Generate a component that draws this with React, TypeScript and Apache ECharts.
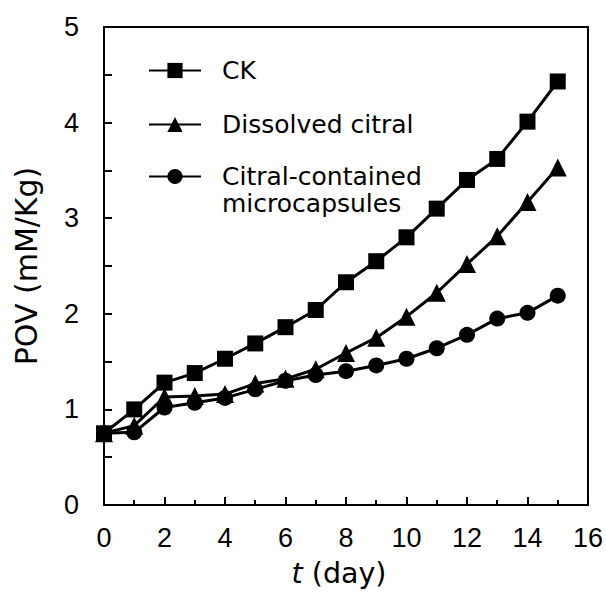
import React, { useEffect, useRef } from 'react';
import * as echarts from 'echarts';

const days = [0, 1, 2, 3, 4, 5, 6, 7, 8, 9, 10, 11, 12, 13, 14, 15];
const ckValues = [0.75, 1.0, 1.28, 1.38, 1.53, 1.69, 1.86, 2.04, 2.33, 2.55, 2.8, 3.1, 3.4, 3.62, 4.01, 4.43];
const dissolvedValues = [0.75, 0.83, 1.13, 1.14, 1.16, 1.27, 1.32, 1.42, 1.59, 1.75, 1.97, 2.22, 2.52, 2.81, 3.17, 3.53];
const microValues = [0.75, 0.76, 1.02, 1.07, 1.12, 1.21, 1.3, 1.36, 1.4, 1.46, 1.53, 1.64, 1.78, 1.95, 2.01, 2.19];
const seriesNames = ['CK', 'Dissolved citral', 'Citral-contained microcapsules'];
const seriesSymbols = ['rect', 'triangle', 'circle'];
const seriesSymbolSizes = [16, 18, 16];

const digitFont = '"Liberation Sans", Arial, sans-serif';
const textFont = '"DejaVu Sans", sans-serif';

export default function App() {
  const ref = useRef<HTMLDivElement>(null);
  useEffect(() => {
    if (!ref.current) return;
    const chart = echarts.init(ref.current, undefined, { renderer: 'svg' });
    const allValues = [ckValues, dissolvedValues, microValues];
    const legendTops = [57, 111, 136];
    chart.setOption({
      animation: false,
      grid: {
        left: 104,
        right: 16,
        top: 27,
        bottom: 81,
        show: true,
        borderColor: '#000',
        borderWidth: 2,
        backgroundColor: 'transparent',
      },
      legend: seriesNames.map((n, i) => ({
        orient: 'vertical',
        left: 148,
        top: legendTops[i],
        padding: 0,
        itemWidth: 52,
        itemHeight: 19,
        selectedMode: false,
        data: [n],
        formatter: (name: string) =>
          i === 2 ? '\n' + name.replace(' microcapsules', '\nmicrocapsules') : name,
        textStyle: {
          fontFamily: textFont,
          fontSize: 25,
          color: '#000',
          lineHeight: 27,
          padding: [0, 0, 0, 16],
        },
      })),
      xAxis: {
        type: 'value',
        min: 0,
        max: 16,
        interval: 2,
        name: '{i|t} (day)',
        nameLocation: 'middle',
        nameGap: 54,
        nameTextStyle: {
          fontFamily: textFont,
          fontSize: 28.5,
          color: '#000',
          padding: [0, 14, 0, 0],
          rich: {
            i: { fontFamily: textFont, fontSize: 28.5, fontStyle: 'italic', color: '#000' },
          },
        },
        axisLine: { show: true, lineStyle: { color: '#000', width: 2 } },
        axisTick: { show: true, inside: true, length: 8, lineStyle: { color: '#000', width: 2 } },
        minorTick: { show: true, splitNumber: 2, length: 5, lineStyle: { color: '#000', width: 2 } },
        splitLine: { show: false },
        minorSplitLine: { show: false },
        axisLabel: { fontFamily: digitFont, fontSize: 27, color: '#000', margin: 19 },
      },
      yAxis: {
        type: 'value',
        min: 0,
        max: 5,
        interval: 1,
        name: 'POV (mM/Kg)',
        nameLocation: 'middle',
        nameRotate: 90,
        nameGap: 63,
        nameTextStyle: { fontFamily: textFont, fontSize: 30, color: '#000' },
        axisLine: { show: true, lineStyle: { color: '#000', width: 2 } },
        axisTick: { show: true, inside: true, length: 8, lineStyle: { color: '#000', width: 2 } },
        minorTick: { show: true, splitNumber: 2, length: 8, lineStyle: { color: '#000', width: 2 } },
        splitLine: { show: false },
        minorSplitLine: { show: false },
        axisLabel: { fontFamily: digitFont, fontSize: 27, color: '#000', margin: 25 },
      },
      series: seriesNames.map((n, i) => ({
        name: n,
        type: 'line',
        data: days.map((d, j) => [d, allValues[i][j]]),
        symbol: seriesSymbols[i],
        symbolSize: seriesSymbolSizes[i],
        showAllSymbol: true,
        lineStyle: { color: '#000', width: 3 },
        itemStyle: { color: '#000', borderWidth: 0 },
        emphasis: { disabled: true },
        z: 3 - i,
      })),
    });
    return () => chart.dispose();
  }, []);
  return (
    <div
      ref={ref}
      style={{ position: 'absolute', left: 0, top: 0, width: 606, height: 593 }}
    />
  );
}
